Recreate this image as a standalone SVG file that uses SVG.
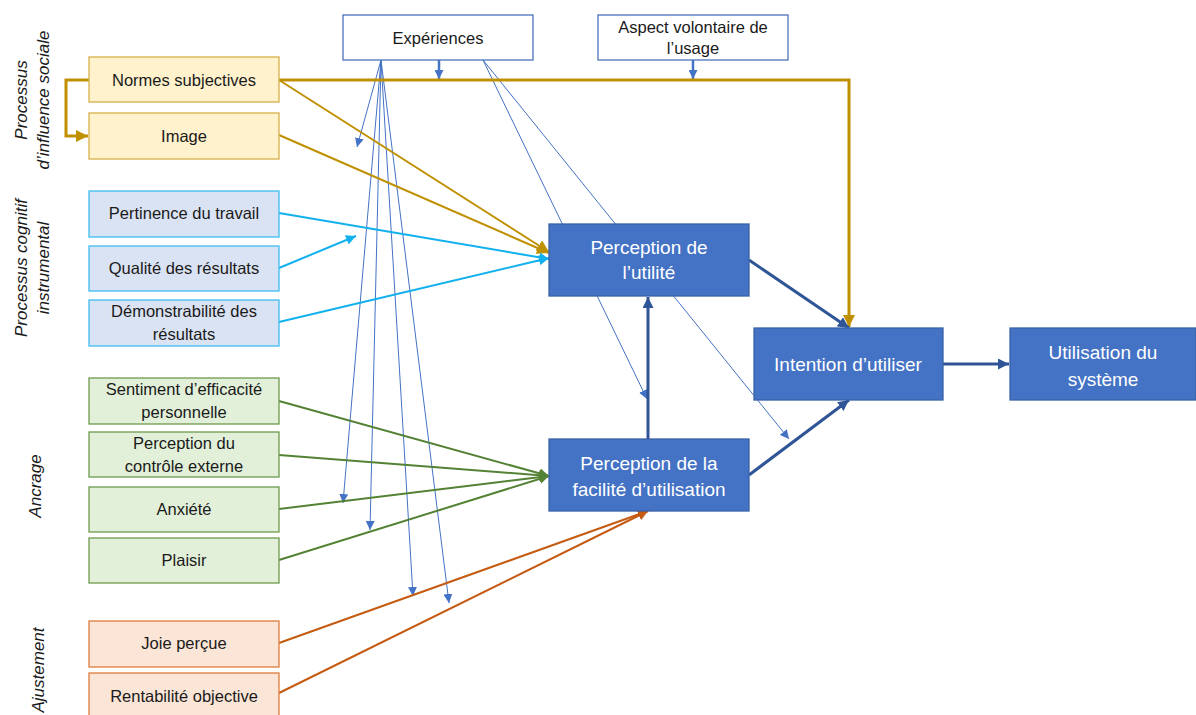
<svg xmlns="http://www.w3.org/2000/svg" width="1196" height="715" viewBox="0 0 1196 715">
<defs>
<style>
text{font-family:"Liberation Sans",Arial,sans-serif;text-anchor:middle;dominant-baseline:central}
.s{font-size:16.5px;fill:#1a1a1a}
.w{font-size:19px;fill:#ffffff}
.lab{font-size:17px;font-style:italic;fill:#1a1a1a}
.gold{fill:#FFF2CC;stroke:#D6B04A;stroke-width:1.3}
.cyan{fill:#DAE3F3;stroke:#3DBDF0;stroke-width:1.3}
.green{fill:#E2F0D9;stroke:#6E9A4E;stroke-width:1.3}
.orange{fill:#FBE5D6;stroke:#E07B3C;stroke-width:1.3}
.blue{fill:#4472C4;stroke:#3A62A8;stroke-width:1.3}
.white{fill:#ffffff;stroke:#4A72BD;stroke-width:1.3}
.cg{stroke:#BF9000;stroke-width:3;fill:none}
.cg2{stroke:#BF9000;stroke-width:2;fill:none}
.cc{stroke:#12B1EE;stroke-width:2;fill:none}
.cgr{stroke:#548235;stroke-width:2;fill:none}
.co{stroke:#C55A11;stroke-width:2;fill:none}
.cb{stroke:#2F5597;stroke-width:3;fill:none}
.ct{stroke:#4472C4;stroke-width:1;fill:none}
.ct2{stroke:#4472C4;stroke-width:2.5;fill:none}
</style>
<marker id="mg" markerUnits="userSpaceOnUse" markerWidth="12" markerHeight="12" refX="10" refY="5" orient="auto" viewBox="0 0 10 10"><path d="M0,0 L10,5 L0,10 z" fill="#BF9000"/></marker>
<marker id="mc" markerUnits="userSpaceOnUse" markerWidth="10" markerHeight="10" refX="10" refY="5" orient="auto" viewBox="0 0 10 10"><path d="M0,0 L10,5 L0,10 z" fill="#12B1EE"/></marker>
<marker id="mgr" markerUnits="userSpaceOnUse" markerWidth="10" markerHeight="10" refX="10" refY="5" orient="auto" viewBox="0 0 10 10"><path d="M0,0 L10,5 L0,10 z" fill="#548235"/></marker>
<marker id="mo" markerUnits="userSpaceOnUse" markerWidth="10" markerHeight="10" refX="10" refY="5" orient="auto" viewBox="0 0 10 10"><path d="M0,0 L10,5 L0,10 z" fill="#C55A11"/></marker>
<marker id="mb" markerUnits="userSpaceOnUse" markerWidth="11" markerHeight="11" refX="10" refY="5" orient="auto" viewBox="0 0 10 10"><path d="M0,0 L10,5 L0,10 z" fill="#2F5597"/></marker>
<marker id="mt" markerUnits="userSpaceOnUse" markerWidth="9" markerHeight="9" refX="10" refY="5" orient="auto" viewBox="0 0 10 10"><path d="M0,0 L10,5 L0,10 z" fill="#4472C4"/></marker>
</defs>

<g id="labels">
<text class="lab" transform="translate(21,100) rotate(-90)">Processus</text>
<text class="lab" transform="translate(43,100) rotate(-90)">d’influence sociale</text>
<text class="lab" transform="translate(21,268) rotate(-90)">Processus cognitif</text>
<text class="lab" transform="translate(43,268) rotate(-90)">instrumental</text>
<text class="lab" transform="translate(35,486) rotate(-90)">Ancrage</text>
<text class="lab" transform="translate(38,670) rotate(-90)">Ajustement</text>
</g>

<g id="connectors">
<line class="ct" x1="381" y1="60" x2="357" y2="147" marker-end="url(#mt)"/>
<line class="ct" x1="381" y1="60" x2="343" y2="503" marker-end="url(#mt)"/>
<line class="ct" x1="381" y1="60" x2="370" y2="530" marker-end="url(#mt)"/>
<line class="ct" x1="381" y1="60" x2="413" y2="596" marker-end="url(#mt)"/>
<line class="ct" x1="381" y1="60" x2="449" y2="603" marker-end="url(#mt)"/>
<line class="ct" x1="483" y1="60" x2="647" y2="399" marker-end="url(#mt)"/>
<line class="ct" x1="483" y1="60" x2="789" y2="439" marker-end="url(#mt)"/>
<line class="ct2" x1="439" y1="60" x2="439" y2="79" marker-end="url(#mt)"/>
<line class="ct2" x1="693" y1="60" x2="693" y2="79" marker-end="url(#mt)"/>
<polyline class="cg" points="89,80 66,80 66,136 88,136" marker-end="url(#mg)"/>
<polyline class="cg" points="279,80 849,80 849,327" marker-end="url(#mg)"/>
<line class="cg2" x1="279" y1="80" x2="549" y2="252" marker-end="url(#mg)"/>
<line class="cg2" x1="279" y1="135" x2="549" y2="253" marker-end="url(#mg)"/>
<line class="cc" x1="279" y1="213" x2="549" y2="259" marker-end="url(#mc)"/>
<line class="cc" x1="279" y1="268" x2="356" y2="236" marker-end="url(#mc)"/>
<line class="cc" x1="279" y1="322" x2="549" y2="258" marker-end="url(#mc)"/>
<line class="cgr" x1="279" y1="401" x2="549" y2="476" marker-end="url(#mgr)"/>
<line class="cgr" x1="279" y1="455" x2="549" y2="476" marker-end="url(#mgr)"/>
<line class="cgr" x1="279" y1="509" x2="549" y2="476" marker-end="url(#mgr)"/>
<line class="cgr" x1="279" y1="560" x2="549" y2="476" marker-end="url(#mgr)"/>
<line class="co" x1="279" y1="643" x2="648" y2="511" marker-end="url(#mo)"/>
<line class="co" x1="279" y1="693" x2="648" y2="511" marker-end="url(#mo)"/>
<line class="cb" x1="749" y1="260" x2="849" y2="328" marker-end="url(#mb)"/>
<line class="cb" x1="749" y1="475" x2="849" y2="400" marker-end="url(#mb)"/>
<line class="cb" x1="648" y1="439" x2="648" y2="297" marker-end="url(#mb)"/>
<line class="cb" x1="943" y1="364" x2="1009" y2="364" marker-end="url(#mb)"/>
</g>

<g id="n-experiences"><rect class="white" x="343" y="15" width="190" height="45"/><text class="s" x="438" y="38">Expériences</text></g>
<g id="n-aspect"><rect class="white" x="598" y="15" width="190" height="45"/><text class="s" x="693" y="27">Aspect volontaire de</text><text class="s" x="693" y="48">l’usage</text></g>

<g id="n-normes"><rect class="gold" x="89" y="57" width="190" height="45"/><text class="s" x="184" y="80">Normes subjectives</text></g>
<g id="n-image"><rect class="gold" x="89" y="113" width="190" height="46"/><text class="s" x="184" y="136">Image</text></g>

<g id="n-pertinence"><rect class="cyan" x="89" y="191" width="190" height="46"/><text class="s" x="184" y="213">Pertinence du travail</text></g>
<g id="n-qualite"><rect class="cyan" x="89" y="246" width="190" height="45"/><text class="s" x="184" y="268">Qualité des résultats</text></g>
<g id="n-demonstrabilite"><rect class="cyan" x="89" y="300" width="190" height="46"/><text class="s" x="184" y="311">Démonstrabilité des</text><text class="s" x="184" y="334">résultats</text></g>

<g id="n-sentiment"><rect class="green" x="89" y="378" width="190" height="46"/><text class="s" x="184" y="389">Sentiment d’efficacité</text><text class="s" x="184" y="412">personnelle</text></g>
<g id="n-controle"><rect class="green" x="89" y="432" width="190" height="45"/><text class="s" x="184" y="443">Perception du</text><text class="s" x="184" y="466">contrôle externe</text></g>
<g id="n-anxiete"><rect class="green" x="89" y="487" width="190" height="45"/><text class="s" x="184" y="509">Anxiété</text></g>
<g id="n-plaisir"><rect class="green" x="89" y="538" width="190" height="45"/><text class="s" x="184" y="560">Plaisir</text></g>

<g id="n-joie"><rect class="orange" x="89" y="621" width="190" height="46"/><text class="s" x="184" y="643">Joie perçue</text></g>
<g id="n-rentabilite"><rect class="orange" x="89" y="673" width="190" height="46"/><text class="s" x="184" y="696">Rentabilité objective</text></g>

<g id="n-pu"><rect class="blue" x="549" y="224" width="200" height="72"/><text class="w" x="649" y="247">Perception de</text><text class="w" x="649" y="272">l’utilité</text></g>
<g id="n-peou"><rect class="blue" x="549" y="439" width="200" height="72"/><text class="w" x="649" y="463">Perception de la</text><text class="w" x="649" y="489">facilité d’utilisation</text></g>
<g id="n-intention"><rect class="blue" x="754" y="328" width="189" height="72"/><text class="w" x="848" y="364">Intention d’utiliser</text></g>
<g id="n-utilisation"><rect class="blue" x="1010" y="328" width="186" height="72"/><text class="w" x="1103" y="352">Utilisation du</text><text class="w" x="1103" y="379">système</text></g>
</svg>
